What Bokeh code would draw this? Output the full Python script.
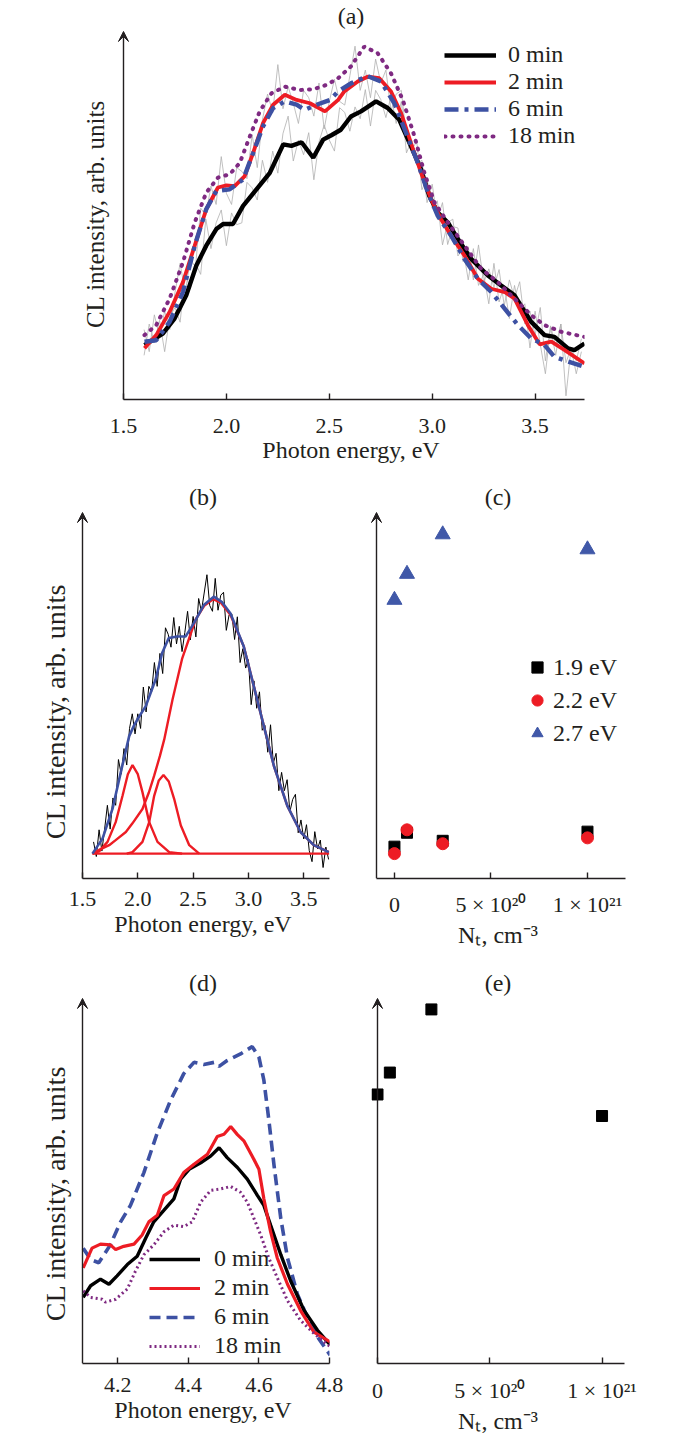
from bokeh.plotting import figure
from bokeh.layouts import column, row
from bokeh.models import Range1d, FixedTicker, Arrow, VeeHead, CustomJSTickFormatter
from bokeh.embed import file_html
from bokeh.resources import INLINE

FONT = "Liberation Serif"
INK = "#231f20"
RED = "#ed1c24"
BLUE = "#3d51a3"
PURPLE = "#7f2a82"
GRAY = "#b0b0b0"

# ---------------- panel (a) ----------------
a_e_0 = [1.602, 1.691, 1.748, 1.805, 1.854, 1.902, 1.951, 1.984, 2.032, 2.081, 2.146, 2.211, 2.276,
         2.316, 2.365, 2.422, 2.470, 2.510, 2.556, 2.605, 2.654, 2.727, 2.784, 2.840, 2.897, 2.946,
         2.986, 3.027, 3.076, 3.125, 3.189, 3.271, 3.335, 3.400, 3.481, 3.546, 3.594, 3.660, 3.691, 3.740]
a_y_0 = [14.8, 17.9, 22.0, 28.3, 36.4, 41.8, 46.3, 47.7, 47.7, 52.6, 57.1, 61.6, 69.3,
         68.9, 69.9, 65.7, 70.6, 71.8, 73.3, 76.9, 78.3, 81.0, 79.2, 76.0, 68.8, 62.5,
         55.3, 50.8, 48.1, 43.6, 38.2, 33.7, 31.0, 28.3, 21.1, 17.5, 17.0, 13.9, 13.4, 15.2]

a_e_2 = [1.602, 1.659, 1.724, 1.789, 1.846, 1.902, 1.959, 2.000, 2.040, 2.089, 2.130, 2.178, 2.227,
         2.284, 2.341, 2.406, 2.479, 2.543, 2.573, 2.638, 2.686, 2.743, 2.800, 2.849, 2.897, 2.946,
         2.995, 3.043, 3.092, 3.157, 3.222, 3.287, 3.352, 3.400, 3.465, 3.522, 3.579, 3.644, 3.740]
a_y_2 = [13.9, 17.5, 23.8, 31.9, 41.8, 51.7, 57.6, 58.2, 58.0, 60.7, 67.0, 75.1, 80.1,
         82.8, 81.4, 80.5, 78.3, 81.4, 83.7, 86.4, 87.7, 87.3, 83.7, 77.8, 69.7, 61.6,
         54.4, 49.0, 44.5, 39.1, 32.8, 30.1, 29.2, 27.4, 20.2, 15.0, 15.7, 13.4, 9.8]

a_e_6 = [1.602, 1.659, 1.724, 1.789, 1.846, 1.902, 1.951, 2.016, 2.081, 2.130, 2.178, 2.227, 2.284,
         2.341, 2.381, 2.438, 2.503, 2.543, 2.605, 2.686, 2.751, 2.816, 2.873, 2.930, 2.979, 3.027,
         3.092, 3.157, 3.222, 3.287, 3.352, 3.417, 3.481, 3.546, 3.594, 3.650, 3.740]
a_y_6 = [15.7, 16.1, 21.1, 29.2, 41.8, 51.7, 56.7, 57.1, 59.8, 67.0, 74.2, 79.2, 81.0,
         80.1, 78.7, 80.1, 81.4, 83.7, 85.9, 87.9, 86.4, 80.5, 72.4, 64.3, 56.2, 49.9,
         44.5, 38.2, 32.8, 29.2, 24.7, 20.2, 16.6, 14.8, 11.6, 10.5, 8.9]

a_e_18 = [1.602, 1.659, 1.724, 1.789, 1.846, 1.902, 1.959, 2.016, 2.065, 2.114, 2.162, 2.219, 2.284,
          2.357, 2.422, 2.487, 2.543, 2.605, 2.670, 2.735, 2.800, 2.857, 2.914, 2.962, 3.011, 3.076,
          3.157, 3.238, 3.319, 3.400, 3.481, 3.546, 3.627, 3.740]
a_y_18 = [17.5, 20.2, 27.4, 37.3, 48.1, 56.2, 60.3, 61.2, 64.3, 71.5, 78.3, 83.2, 85.0,
          84.1, 84.3, 85.5, 87.3, 90.5, 95.9, 94.1, 88.6, 81.4, 71.5, 61.6, 53.5, 48.1,
          41.8, 35.5, 31.9, 27.4, 22.9, 20.2, 18.4, 17.0]

# raw (noisy) spectra, energy grid shared by the raw traces of (a) and (b)
raw_e = [1.600, 1.625, 1.650, 1.675, 1.700, 1.725, 1.750, 1.775, 1.800, 1.825,
         1.850, 1.875, 1.900, 1.925, 1.950, 1.975, 2.000, 2.025, 2.050, 2.075,
         2.100, 2.125, 2.150, 2.175, 2.200, 2.225, 2.250, 2.275, 2.300, 2.325,
         2.350, 2.375, 2.400, 2.425, 2.450, 2.475, 2.500, 2.525, 2.550, 2.575,
         2.600, 2.625, 2.650, 2.675, 2.700, 2.725, 2.750, 2.775, 2.800, 2.825,
         2.850, 2.875, 2.900, 2.925, 2.950, 2.975, 3.000, 3.025, 3.050, 3.075,
         3.100, 3.125, 3.150, 3.175, 3.200, 3.225, 3.250, 3.275, 3.300, 3.325,
         3.350, 3.375, 3.400, 3.425, 3.450, 3.475, 3.500, 3.525, 3.550, 3.575,
         3.600, 3.625, 3.650, 3.675, 3.700, 3.725]
a_raw_1 = [19, 13, 23, 17, 24, 19, 29, 37, 29, 38,
           36, 52, 50, 58, 53, 66, 56, 53, 63, 62,
           60, 72, 63, 76, 83, 78, 91, 79, 85, 80.5,
           75, 84, 82, 77, 86, 73.5, 81, 87, 81, 80,
           88, 96, 84, 89.5, 82, 92.5, 86, 89.5, 78.5, 83,
           84, 71, 68, 70, 57, 60, 52, 54, 42, 48,
           49, 39, 41, 32.5, 41, 31, 34, 26, 37, 26.5,
           31, 22, 31, 24, 26, 14, 24, 15, 7, 19.5,
           12, 20.5, 1, 14, 7, 13]
a_raw_2 = [12, 20.5, 15.5, 21.5, 13, 22.5, 25, 21, 34, 30,
           37, 34, 49, 41, 48, 51.5, 41.8, 50.7, 47.5, 48,
           59, 57.5, 54.2, 65, 59, 67.5, 61.5, 72.3, 77, 64.8,
           70.5, 66.5, 72.5, 59.7, 70, 74.6, 70.5, 67.5, 79.3, 78,
           72.9, 79.5, 76.3, 84.2, 74.3, 84, 81.5, 76.6, 82.5, 75,
           81, 67, 70.5, 64, 65, 53.5, 58.5, 49, 53.5, 42.1,
           47, 46.6, 37.5, 41.5, 32.5, 42, 31.7, 35.5, 30.5, 35.3,
           25.5, 32.5, 27.5, 32, 20.5, 24, 17.5, 25, 10.5, 20,
           14.5, 20.5, 10, 14, 10.5, 16.5]

# ---------------- panel (b) ----------------
b_raw = [10, 6, 13.3, 7.5, 13.5, 20, 13.5, 22, 20, 32.5,
         28.5, 35.5, 31, 41, 45, 39.5, 45, 41, 52.3, 45.5,
         52.5, 51, 59, 52.5, 61.5, 56, 68.5, 66.7, 63.2, 71.3,
         64.1, 68.9, 62, 67.2, 73, 65.2, 71.6, 66, 76.5, 73,
         78, 83, 74.6, 73, 82, 73.3, 77.4, 78.2, 67.8, 72,
         72.3, 65.3, 71.5, 59, 62.8, 57.5, 59.8, 47.5, 54, 46.5,
         51, 40.5, 41.8, 34.5, 42, 31.5, 34.2, 24, 29, 24,
         27, 18.3, 21.6, 23, 12.5, 16, 10.8, 14.7, 7.6, 4.6,
         12.8, 8.1, 10.5, 3, 8.6, 5.2]
b_fit_e = [1.590, 1.681, 1.771, 1.846, 1.922, 1.964, 1.997, 2.072, 2.160, 2.220, 2.280, 2.356,
           2.431, 2.506, 2.597, 2.687, 2.762, 2.838, 2.958, 3.049, 3.139, 3.230, 3.351, 3.471,
           3.591, 3.727]
b_fit_y = [6.8, 10.9, 19.0, 29.0, 38.9, 41.7, 43.5, 47.1, 54.3, 61.6, 65.7, 66.1,
           66.1, 69.7, 74.7, 77.0, 75.5, 72.4, 63.4, 52.5, 41.7, 30.8, 19.9, 12.7,
           9.1, 7.2]
b_g1_e = [1.590, 1.650, 1.726, 1.800, 1.862, 1.910, 1.952, 2.000, 2.042, 2.103, 2.178, 2.284, 2.400]
b_g1_y = [6.8, 7.4, 10.0, 15.4, 22.6, 28.5, 31.0, 28.5, 23.6, 15.4, 10.0, 7.2, 6.8]
b_g2_e = [1.900, 1.952, 2.042, 2.103, 2.148, 2.190, 2.232, 2.280, 2.329, 2.389, 2.465, 2.555]
b_g2_y = [6.8, 7.2, 10.0, 15.4, 22.6, 26.8, 28.3, 26.5, 21.7, 14.5, 9.1, 6.8]
b_g3_e = [1.590, 1.650, 1.741, 1.800, 1.892, 1.950, 2.042, 2.100, 2.148, 2.200, 2.239, 2.314,
          2.400, 2.522, 2.600, 2.680, 2.750, 2.838, 2.958, 3.049, 3.139, 3.230, 3.351, 3.471,
          3.591, 3.727]
b_g3_y = [6.8, 7.8, 9.1, 10.5, 12.7, 15.0, 19.0, 23.5, 28.1, 33.5, 38.0, 48.9,
          60.0, 70.7, 74.5, 76.3, 75.4, 72.0, 63.4, 52.5, 41.7, 30.8, 19.9, 12.7,
          9.1, 7.2]
b_base_e = [1.590, 3.730]
b_base_y = [6.8, 6.8]

# ---------------- panel (c) ----------------
c_nt = [0, 0.65, 2.5, 10]          # in units of 1e20 cm^-3
c_19 = [8.7, 12.5, 10.3, 12.8]
c_22 = [6.8, 13.3, 9.5, 11.1]
c_27 = [76.1, 83.2, 94.0, 89.9]

# ---------------- panel (d) ----------------
d_e_0 = [4.102, 4.123, 4.151, 4.175, 4.198, 4.227, 4.255, 4.279, 4.302, 4.331, 4.359, 4.378, 4.402,
         4.435, 4.463, 4.487, 4.510, 4.539, 4.567, 4.596, 4.614, 4.633, 4.662, 4.690, 4.728, 4.766, 4.802]
d_y_0 = [18.1, 21.3, 23.1, 21.7, 24.0, 27.1, 29.4, 34.3, 38.8, 42.0, 45.1, 50.5, 53.2,
         55.0, 56.8, 59.1, 56.4, 53.7, 50.5, 46.0, 43.3, 37.9, 29.8, 22.6, 14.5, 9.1, 5.1]
d_e_2 = [4.102, 4.127, 4.151, 4.179, 4.194, 4.217, 4.246, 4.269, 4.288, 4.312, 4.331, 4.359, 4.387,
         4.416, 4.454, 4.482, 4.501, 4.520, 4.539, 4.558, 4.581, 4.600, 4.614, 4.633, 4.652, 4.681,
         4.718, 4.756, 4.802]
d_y_2 = [26.2, 31.6, 32.7, 32.5, 31.2, 32.1, 32.7, 35.2, 38.8, 40.6, 46.0, 47.8, 52.3,
         54.6, 57.3, 62.2, 62.8, 64.9, 62.7, 60.9, 56.8, 53.2, 45.1, 36.1, 28.9, 21.7,
         14.5, 8.6, 5.9]
d_e_6 = [4.102, 4.123, 4.146, 4.179, 4.208, 4.236, 4.274, 4.312, 4.350, 4.387, 4.416, 4.444, 4.473,
         4.487, 4.510, 4.548, 4.581, 4.600, 4.614, 4.628, 4.643, 4.662, 4.681, 4.709, 4.737, 4.766, 4.802]
d_y_6 = [31.6, 28.5, 27.6, 32.5, 38.8, 43.3, 52.3, 63.2, 72.2, 79.4, 82.5, 81.9, 82.5,
         81.4, 83.0, 84.8, 86.8, 83.9, 77.6, 66.8, 54.1, 39.7, 28.9, 19.0, 12.7, 7.3, 2.3]
d_e_18 = [4.102, 4.123, 4.156, 4.165, 4.194, 4.227, 4.250, 4.274, 4.302, 4.331, 4.359, 4.387, 4.411,
          4.435, 4.463, 4.491, 4.520, 4.548, 4.567, 4.586, 4.605, 4.628, 4.652, 4.681, 4.718, 4.756, 4.802]
d_y_18 = [19.9, 18.1, 17.6, 16.8, 17.6, 20.4, 25.3, 29.8, 32.5, 36.1, 37.9, 37.5, 38.8,
          44.2, 47.4, 47.8, 48.5, 46.9, 44.2, 39.7, 35.2, 28.9, 23.5, 17.2, 11.8, 8.2, 4.6]

# ---------------- panel (e) ----------------
e_nt = [0, 0.55, 2.4, 10]          # in units of 1e20 cm^-3
e_val = [73.7, 79.7, 97.0, 67.8]

a_ticks = [1.5, 2.0, 2.5, 3.0, 3.5]
d_ticks = [4.2, 4.4, 4.6, 4.8]
nt_ticks = [0, 5, 10]
nt_labels = {0: "0", 5: "5 \u00d7 10\u00b2\u2070", 10: "1 \u00d7 10\u00b2\u00b9"}

YLABEL = "CL intensity, arb. units"
XLABEL_E = "Photon energy, eV"
XLABEL_N = "N\u209c, cm\u207b\u00b3"
NB = "\u00a0"   # trailing no-break spaces move a centred y label down along its axis

PAD_L = 6   # frame starts a few px left of the drawn y axis so its arrow head is not clipped
PAD_T = 3


def panel(fig_x, fig_y, fig_w, fig_h, ax_l, ax_r, ax_t, ax_b, x0, x1, ticks, title,
          xlabel, tick_standoff, label_standoff, ylabel=None, ylab_standoff=8,
          ylab_size="24px"):
    fl = ax_l - PAD_L
    ft = ax_t - PAD_T
    sx = (x1 - x0) / (ax_r - ax_l)
    sy = 100.0 / (ax_b - ax_t)
    p = figure(width=fig_w, height=fig_h,
               x_range=Range1d(x0 - PAD_L * sx, x1), y_range=Range1d(0, 100 + PAD_T * sy),
               output_backend="svg", toolbar_location=None,
               y_axis_location="left" if ylabel else None,
               min_border_left=fl - fig_x, min_border_right=fig_x + fig_w - ax_r,
               min_border_top=ft - fig_y, min_border_bottom=fig_y + fig_h - ax_b)
    p.outline_line_color = None
    p.xgrid.visible = False
    p.ygrid.visible = False
    p.background_fill_color = "white"
    p.border_fill_color = "white"
    p.title.text = title
    p.title.align = "center"
    p.title.text_font = FONT
    p.title.text_font_size = "24px"
    p.title.text_font_style = "normal"
    p.title.text_color = INK
    p.title.standoff = 0
    xa = p.xaxis[0]
    xa.bounds = (x0, x1)
    xa.ticker = FixedTicker(ticks=ticks)
    xa.axis_line_color = INK
    xa.axis_line_width = 1.4
    xa.major_tick_in = 6
    xa.major_tick_out = 0
    xa.major_tick_line_color = INK
    xa.major_tick_line_width = 1.4
    xa.minor_tick_line_color = None
    xa.major_label_text_font = FONT
    xa.major_label_text_font_size = "22px"
    xa.major_label_text_color = INK
    xa.major_label_standoff = tick_standoff
    xa.axis_label = xlabel
    xa.axis_label_text_font = FONT
    xa.axis_label_text_font_size = "24px"
    xa.axis_label_text_font_style = "normal"
    xa.axis_label_text_color = INK
    xa.axis_label_standoff = label_standoff
    if ylabel:
        ya = p.yaxis[0]
        ya.ticker = FixedTicker(ticks=[])
        ya.axis_line_color = None
        ya.major_tick_line_color = None
        ya.minor_tick_line_color = None
        ya.major_label_text_font_size = "0px"
        ya.major_label_standoff = 0
        ya.major_tick_out = 0
        ya.axis_label = ylabel
        ya.axis_label_text_font = FONT
        ya.axis_label_text_font_size = ylab_size
        ya.axis_label_text_font_style = "normal"
        ya.axis_label_text_color = INK
        ya.axis_label_standoff = ylab_standoff
    # y axis drawn as a line with an arrow head
    p.add_layout(Arrow(end=VeeHead(size=10, fill_color=INK, line_color=INK, line_width=1),
                       x_start=x0, y_start=0, x_end=x0, y_end=100,
                       line_color=INK, line_width=1.4))
    return p, fl


def style_legend(p, loc, glyph_w, glyph_h, standoff, spacing):
    lg = p.legend[0]
    lg.location = loc
    lg.label_text_font = FONT
    lg.label_text_font_size = "24px"
    lg.label_text_color = INK
    lg.glyph_width = glyph_w
    lg.glyph_height = glyph_h
    lg.label_standoff = standoff
    lg.spacing = spacing
    lg.padding = 0
    lg.margin = 0
    lg.border_line_color = None
    lg.background_fill_alpha = 0


one_decimal = CustomJSTickFormatter(code="return tick.toFixed(1);")

# ---- (a)
pa, fla = panel(0, 0, 685, 473, 123, 584, 28, 399, 1.5, 3.74, a_ticks, "(a)",
                XLABEL_E, 19, 1, YLABEL, 9, "25px")
pa.xaxis[0].formatter = one_decimal
pa.line(raw_e, a_raw_1, line_color=GRAY, line_width=0.8)
pa.line(raw_e, a_raw_2, line_color=GRAY, line_width=0.8)
pa.line(a_e_0, a_y_0, line_color="black", line_width=4.4, legend_label="0 min")
pa.line(a_e_2, a_y_2, line_color=RED, line_width=3.8, legend_label="2 min")
pa.line(a_e_6, a_y_6, line_color=BLUE, line_width=4.4, line_dash="14 6 4 6", legend_label="6 min")
pa.line(a_e_18, a_y_18, line_color=PURPLE, line_width=4, line_dash="1 7", line_cap="round",
        legend_label="18 min")
style_legend(pa, (444 - fla, 250), 52, 26, 12, 0)

# ---- (b)
pb, flb = panel(0, 473, 340, 482, 82, 329, 512, 878, 1.5, 3.733, a_ticks, "(b)",
                XLABEL_E, 13, 2, YLABEL + NB * 5, 6, "28px")
pb.xaxis[0].formatter = one_decimal
pb.line(raw_e, b_raw, line_color="black", line_width=1)
pb.line(b_base_e, b_base_y, line_color=RED, line_width=2.4)
pb.line(b_g1_e, b_g1_y, line_color=RED, line_width=2.4)
pb.line(b_g2_e, b_g2_y, line_color=RED, line_width=2.4)
pb.line(b_g3_e, b_g3_y, line_color=RED, line_width=2.4)
pb.line(b_fit_e, b_fit_y, line_color=BLUE, line_width=2.6)

# ---- (c)
pc, flc = panel(340, 473, 345, 482, 376, 625, 512, 878, -0.93, 11.97, nt_ticks, "(c)",
                XLABEL_N, 13, 2)
pc.xaxis[0].major_label_overrides = nt_labels
pc.scatter(c_nt, c_19, marker="square", size=11, fill_color="black", line_color="black",
           legend_label="1.9 eV")
pc.scatter(c_nt, c_22, marker="circle", size=12, fill_color=RED, line_color=RED,
           legend_label="2.2 eV")
pc.scatter(c_nt, c_27, marker="triangle", size=15, fill_color="#4058a8", line_color="#4058a8",
           legend_label="2.7 eV")
style_legend(pc, (523 - flc, 131), 28, 28, 2, 5)

# ---- (d)
pd_, fld = panel(0, 955, 355, 481, 82, 329, 997, 1367, 4.1, 4.8, d_ticks, "(d)",
                 XLABEL_E, 14, 2, YLABEL + NB * 4, 6, "28px")
pd_.xaxis[0].formatter = one_decimal
pd_.line(d_e_6, d_y_6, line_color=BLUE, line_width=3.6, line_dash="11 6", legend_label="6 min")
pd_.line(d_e_0, d_y_0, line_color="black", line_width=3.4, legend_label="0 min")
pd_.line(d_e_2, d_y_2, line_color=RED, line_width=3.2, legend_label="2 min")
pd_.line(d_e_18, d_y_18, line_color=PURPLE, line_width=3, line_dash="2 3", legend_label="18 min")
lg = pd_.legend[0]
lg.items = [lg.items[1], lg.items[2], lg.items[0], lg.items[3]]
style_legend(pd_, (149 - fld, 4), 51, 26, 14, 2)

# ---- (e)
pe, fle = panel(355, 955, 330, 481, 377, 624, 998, 1367, 0, 11.0, nt_ticks, "(e)",
                XLABEL_N, 14, 2)
pe.xaxis[0].major_label_overrides = nt_labels
pe.scatter(e_nt, e_val, marker="square", size=11, fill_color="black", line_color="black")

layout = column(pa, row(pb, pc), row(pd_, pe))
open("out.html", "w").write(file_html(layout, INLINE))
